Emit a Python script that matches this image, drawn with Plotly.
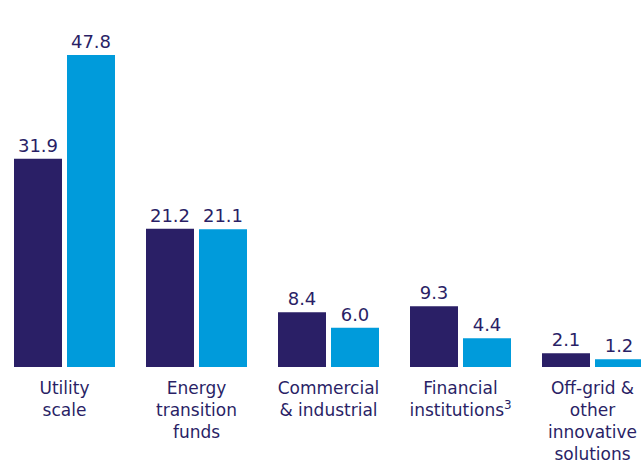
import plotly.graph_objects as go

categories = ["Utility<br>scale", "Energy<br>transition<br>funds", "Commercial<br>& industrial",
              "Financial<br>institutions<sup>3</sup>", "Off-grid &<br>other<br>innovative<br>solutions"]
series_a = [31.9, 21.2, 8.4, 9.3, 2.1]
series_b = [47.8, 21.1, 6.0, 4.4, 1.2]
labels_a = ["31.9", "21.2", "8.4", "9.3", "2.1"]
labels_b = ["47.8", "21.1", "6.0", "4.4", "1.2"]

NAVY = "#2A1F66"
BLUE = "#009BDB"
FONT = "DejaVu Sans"

x = list(range(len(categories)))

fig = go.Figure()
fig.add_trace(go.Bar(x=x, y=series_a, text=labels_a, textposition="outside",
                     marker=dict(color=NAVY, line=dict(width=0)),
                     textfont=dict(color=NAVY, size=18, family=FONT), cliponaxis=False))
fig.add_trace(go.Bar(x=x, y=series_b, text=labels_b, textposition="outside",
                     marker=dict(color=BLUE, line=dict(width=0)),
                     textfont=dict(color=NAVY, size=18, family=FONT), cliponaxis=False))

slot = 132.0
fig.update_layout(
    width=641, height=463,
    margin=dict(l=0, r=0, t=0, b=96, pad=0),
    paper_bgcolor="white", plot_bgcolor="white",
    barmode="group", bargap=1 - 106 / slot, bargroupgap=5 / 53,
    showlegend=False,
    font=dict(family=FONT, color=NAVY, size=17),
    xaxis=dict(range=[-64.5 / slot, (641 - 64.5) / slot], tickvals=x, ticktext=categories,
               showgrid=False, zeroline=False, showline=False, ticks="",
               ticklabelstandoff=9, automargin=False,
               tickfont=dict(family=FONT, size=17, color=NAVY)),
    yaxis=dict(range=[0, 56.23], visible=False, showgrid=False, zeroline=False),
)

fig.write_html("out.html", config={"displayModeBar": False},
               post_script="document.body.style.margin='0';document.body.style.overflow='hidden';")
